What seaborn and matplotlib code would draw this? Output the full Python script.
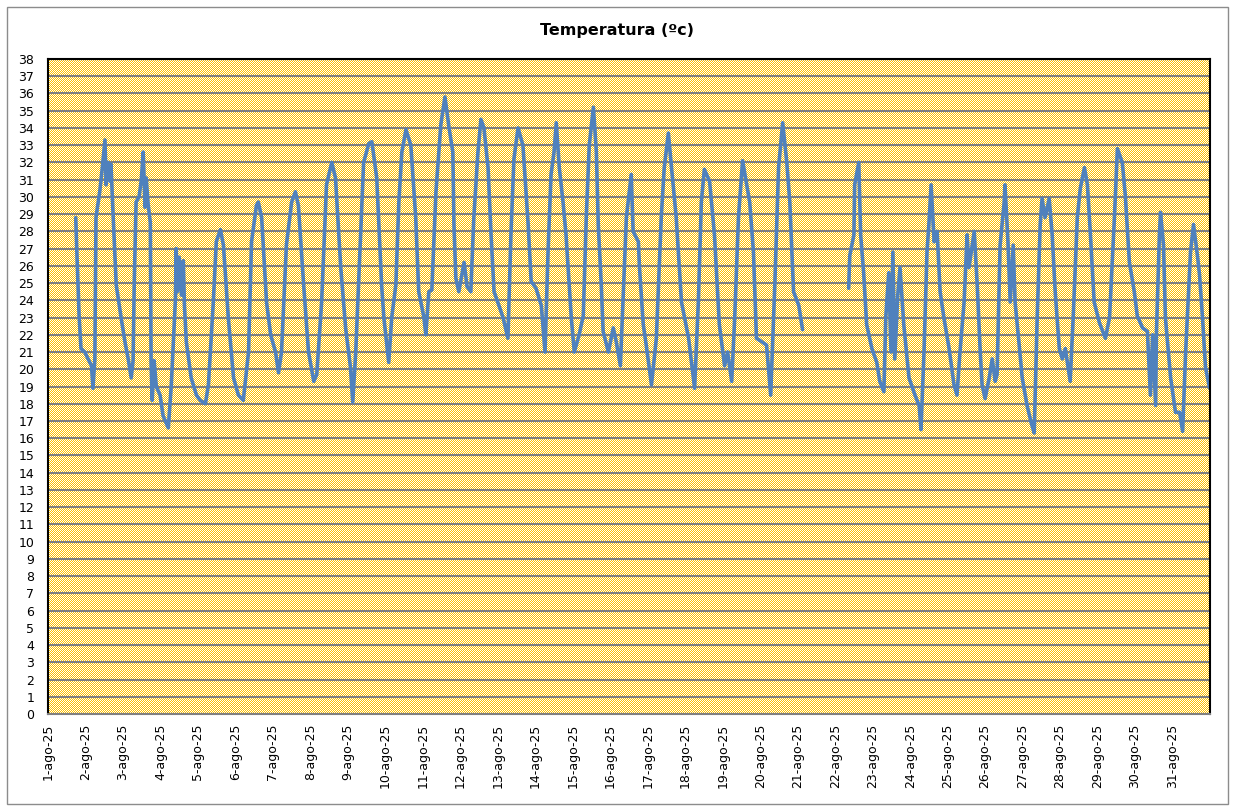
import numpy as np
import pandas as pd
import matplotlib
matplotlib.use("Agg")
import matplotlib.pyplot as plt
import seaborn as sns
from matplotlib.patches import Rectangle

# Lecturas de temperatura: dias desde 1-ago-25 00:00 y valor en ºC
# tramo 1 (hasta el corte del 21-ago)
dias_a = [0.74, 0.77, 0.83, 0.88, 0.98, 1.07, 1.16, 1.20, 1.25, 1.28, 1.38, 1.44, 1.52, 1.55,
          1.60, 1.66, 1.68, 1.74, 1.82, 1.95, 2.06, 2.14, 2.22, 2.27, 2.30, 2.35, 2.43, 2.49,
          2.54, 2.59, 2.62, 2.67, 2.73, 2.75, 2.78, 2.83, 2.89, 2.99, 3.07, 3.21, 3.29, 3.40,
          3.42, 3.45, 3.50, 3.56, 3.61, 3.64, 3.69, 3.82, 3.96, 4.06, 4.20, 4.28, 4.41, 4.49,
          4.60, 4.68, 4.81, 4.95, 5.08, 5.21, 5.35, 5.43, 5.56, 5.61, 5.70, 5.83, 5.94, 6.07,
          6.15, 6.23, 6.36, 6.50, 6.60, 6.68, 6.82, 6.95, 7.09, 7.17, 7.30, 7.43, 7.57, 7.67,
          7.81, 7.94, 8.07, 8.13, 8.21, 8.34, 8.42, 8.56, 8.64, 8.77, 8.90, 8.96, 9.09, 9.17,
          9.28, 9.36, 9.44, 9.55, 9.68, 9.81, 9.89, 10.03, 10.08, 10.16, 10.24, 10.35, 10.48,
          10.59, 10.70, 10.80, 10.83, 10.88, 10.96, 11.10, 11.18, 11.28, 11.36, 11.47, 11.55,
          11.63, 11.74, 11.82, 11.90, 12.03, 12.14, 12.27, 12.35, 12.43, 12.54, 12.67, 12.81,
          12.89, 13.02, 13.16, 13.26, 13.34, 13.42, 13.50, 13.56, 13.64, 13.74, 13.82, 13.96,
          14.04, 14.17, 14.28, 14.36, 14.44, 14.55, 14.63, 14.68, 14.76, 14.81, 14.95, 15.08,
          15.16, 15.27, 15.35, 15.43, 15.56, 15.61, 15.75, 15.78, 15.88, 15.96, 16.10, 16.23,
          16.36, 16.44, 16.55, 16.63, 16.76, 16.90, 17.09, 17.25, 17.35, 17.43, 17.51, 17.65,
          17.78, 17.91, 18.05, 18.13, 18.24, 18.32, 18.42, 18.53, 18.64, 18.72, 18.82, 18.90,
          19.04, 19.17, 19.28, 19.39, 19.49, 19.60, 19.71, 19.79, 19.89, 20.03, 20.13]
temp_a = [28.8, 26.8, 23.1, 21.2, 21.0, 20.6, 20.2, 18.9, 20.6, 28.8, 30.3, 31.5, 33.3, 30.7,
          32.0, 30.9, 31.9, 28.8, 24.9, 23.0, 21.5, 20.6, 19.5, 20.5, 24.9, 29.7, 30.0, 31.0,
          32.6, 29.4, 31.1, 29.6, 28.5, 20.4, 18.2, 20.5, 19.0, 18.5, 17.3, 16.6, 19.1, 24.1,
          27.0, 24.5, 26.5, 24.3, 26.3, 23.7, 21.6, 19.5, 18.5, 18.2, 18.0, 19.1, 23.9, 27.4,
          28.1, 27.2, 23.0, 19.5, 18.5, 18.2, 21.0, 27.4, 29.5, 29.7, 28.8, 23.9, 22.0, 21.0,
          19.8, 21.0, 27.2, 29.7, 30.3, 29.5, 24.9, 21.0, 19.3, 19.7, 23.9, 30.7, 32.0, 31.1,
          25.9, 22.4, 20.1, 18.1, 21.0, 27.8, 32.0, 33.1, 33.2, 31.1, 24.9, 23.0, 20.4, 23.0,
          24.9, 29.7, 32.6, 33.9, 33.0, 28.8, 24.5, 23.0, 22.0, 24.5, 24.6, 30.3, 34.2,
          35.8, 34.0, 32.6, 28.4, 25.3, 24.5, 26.2, 24.8, 24.5, 28.8, 32.6, 34.5,
          34.0, 31.7, 27.8, 24.5, 23.7, 23.0, 21.8, 27.8, 32.2, 34.0, 33.0, 28.4,
          25.1, 24.7, 23.7, 21.0, 26.8, 31.3, 32.6, 34.3, 31.7, 29.7, 27.8, 23.0,
          21.0, 22.0, 23.1, 28.8, 33.0, 35.2, 32.6, 28.4, 24.9, 22.2, 21.0, 22.4,
          21.6, 20.2, 24.5, 28.8, 31.3, 28.0, 27.4, 25.9, 22.6, 21.4, 19.1, 21.8,
          28.8, 31.7, 33.7, 31.8, 28.8, 23.9, 21.8, 18.9, 23.9, 29.7, 31.6, 30.9,
          27.8, 22.6, 20.2, 21.0, 19.3, 23.0, 28.8, 32.1, 30.7, 29.7, 26.8, 21.8,
          21.6, 21.4, 18.5, 24.9, 31.7, 34.3, 32.0, 29.7, 24.5, 23.7, 22.3]

# tramo 2 (despues del corte, desde el 22-ago)
dias_b = [21.36, 21.39, 21.50, 21.52, 21.63, 21.68, 21.76, 21.84, 21.98, 22.11, 22.19, 22.30,
          22.35, 22.43, 22.49, 22.54, 22.59, 22.67, 22.73, 22.83, 22.97, 23.13, 23.24, 23.29,
          23.37, 23.45, 23.50, 23.56, 23.64, 23.72, 23.80, 23.90, 24.04, 24.17, 24.25, 24.33,
          24.44, 24.52, 24.57, 24.71, 24.79, 24.87, 24.92, 25.00, 25.11, 25.19, 25.27, 25.32,
          25.40, 25.51, 25.53, 25.61, 25.67, 25.75, 25.80, 25.91, 25.99, 26.12, 26.23, 26.31,
          26.39, 26.47, 26.52, 26.60, 26.71, 26.79, 26.87, 26.98, 27.06, 27.14, 27.27, 27.35,
          27.46, 27.54, 27.65, 27.73, 27.81, 27.91, 28.05, 28.21, 28.32, 28.45, 28.53, 28.66,
          28.74, 28.85, 28.98, 29.06, 29.20, 29.33, 29.41, 29.47, 29.55, 29.57, 29.65, 29.68,
          29.76, 29.81, 29.95, 30.08, 30.19, 30.27, 30.35, 30.48, 30.56, 30.67, 30.72, 30.80,
          30.88, 30.99]
temp_b = [24.7, 26.6, 27.8, 30.7, 32.0, 27.8, 25.6, 22.6, 21.2, 20.4, 19.3, 18.7,
          23.0, 25.6, 21.0, 26.8, 20.6, 24.3, 25.9, 22.6, 19.5, 18.5, 17.9, 16.5,
          21.0, 26.8, 28.4, 30.7, 27.4, 28.0, 24.5, 23.0, 21.2, 19.1, 18.5, 21.0,
          23.9, 27.8, 25.9, 28.0, 24.9, 21.0, 19.1, 18.3, 19.5, 20.6, 19.3, 19.7,
          27.2, 29.7, 30.7, 27.4, 23.9, 27.2, 23.9, 21.4, 19.5, 17.9, 16.9, 16.3,
          23.0, 28.4, 29.9, 28.8, 29.9, 27.8, 24.5, 21.2, 20.6, 21.2, 19.3, 23.0,
          28.8, 30.5, 31.7, 30.7, 27.8, 23.9, 22.7, 21.8, 23.0, 28.8, 32.8, 32.0,
          30.1, 26.2, 24.5, 23.1, 22.4, 22.2, 18.5, 22.0, 17.9, 22.0, 27.8, 29.1,
          27.2, 23.0, 19.5, 17.5, 17.5, 16.4, 21.0, 26.8, 28.4, 26.5, 25.5, 23.0,
          20.1, 18.9]

y_ticks = list(range(0, 39))
x_labels = ["1-ago-25", "2-ago-25", "3-ago-25", "4-ago-25", "5-ago-25", "6-ago-25",
            "7-ago-25", "8-ago-25", "9-ago-25", "10-ago-25", "11-ago-25", "12-ago-25",
            "13-ago-25", "14-ago-25", "15-ago-25", "16-ago-25", "17-ago-25", "18-ago-25",
            "19-ago-25", "20-ago-25", "21-ago-25", "22-ago-25", "23-ago-25", "24-ago-25",
            "25-ago-25", "26-ago-25", "27-ago-25", "28-ago-25", "29-ago-25", "30-ago-25",
            "31-ago-25"]

inicio = pd.Timestamp("2025-08-01")
df = pd.concat([
    pd.DataFrame({"dia": dias_a, "temp": temp_a, "tramo": 1}),
    pd.DataFrame({"dia": dias_b, "temp": temp_b, "tramo": 2}),
], ignore_index=True)
df["fecha"] = inicio + pd.to_timedelta(df["dia"], unit="D")

sns.set_style("white")
plt.rcParams["font.family"] = ["DejaVu Sans"]

W, H = 1233, 810
fig = plt.figure(figsize=(W / 100, H / 100), dpi=100, facecolor="white")
ax = fig.add_axes([48 / W, 1 - 714 / H, (1210 - 48) / W, (714 - 59) / H])
ax.set_facecolor("none")

# fondo de trama amarilla/blanca (estilo Excel)
bb = ax.get_position()
x0, y0 = int(round(bb.x0 * W)), int(round(bb.y0 * H))
w, h = int(round(bb.width * W)), int(round(bb.height * H))
chk = np.indices((h, w)).sum(axis=0) % 2
img = np.where(chk[..., None] == 0, np.array([255, 192, 0]), np.array([255, 255, 255])).astype(np.uint8)
fig.figimage(img, xo=x0, yo=y0, zorder=-1)

sns.lineplot(data=df, x="fecha", y="temp", units="tramo", estimator=None, sort=False,
             color="#4F81BD", linewidth=2.6, ax=ax)

ax.set_ylim(0, 38)
ax.set_yticks(y_ticks)
ax.set_xlim(inicio, inicio + pd.Timedelta(days=31))
ax.set_xticks(pd.date_range(inicio, periods=31, freq="D"))
ax.set_xticklabels(x_labels, rotation=90)
ax.set_xlabel("")
ax.set_ylabel("")
ax.yaxis.grid(True, color="#808080", linewidth=1.5)
ax.xaxis.grid(False)
ax.tick_params(axis="both", length=0, labelsize=9, colors="black")
ax.tick_params(axis="y", pad=10)
ax.tick_params(axis="x", pad=7)

for s in ["left", "top", "right"]:
    ax.spines[s].set_color("black")
    ax.spines[s].set_linewidth(1.5)
ax.spines["bottom"].set_color("#808080")
ax.spines["bottom"].set_linewidth(1.5)

fig.text(0.5, 1 - 30 / H, "Temperatura (ºc)", ha="center", va="center",
         fontsize=11.5, fontweight="bold", color="black")

# borde exterior del grafico
fig.patches.append(Rectangle((7 / W, 1 - 804 / H), (1228 - 7) / W, (804 - 7) / H,
                             transform=fig.transFigure, fill=False,
                             edgecolor="#8c8c8c", linewidth=1))

fig.savefig("out.png", dpi=100, facecolor="white")
